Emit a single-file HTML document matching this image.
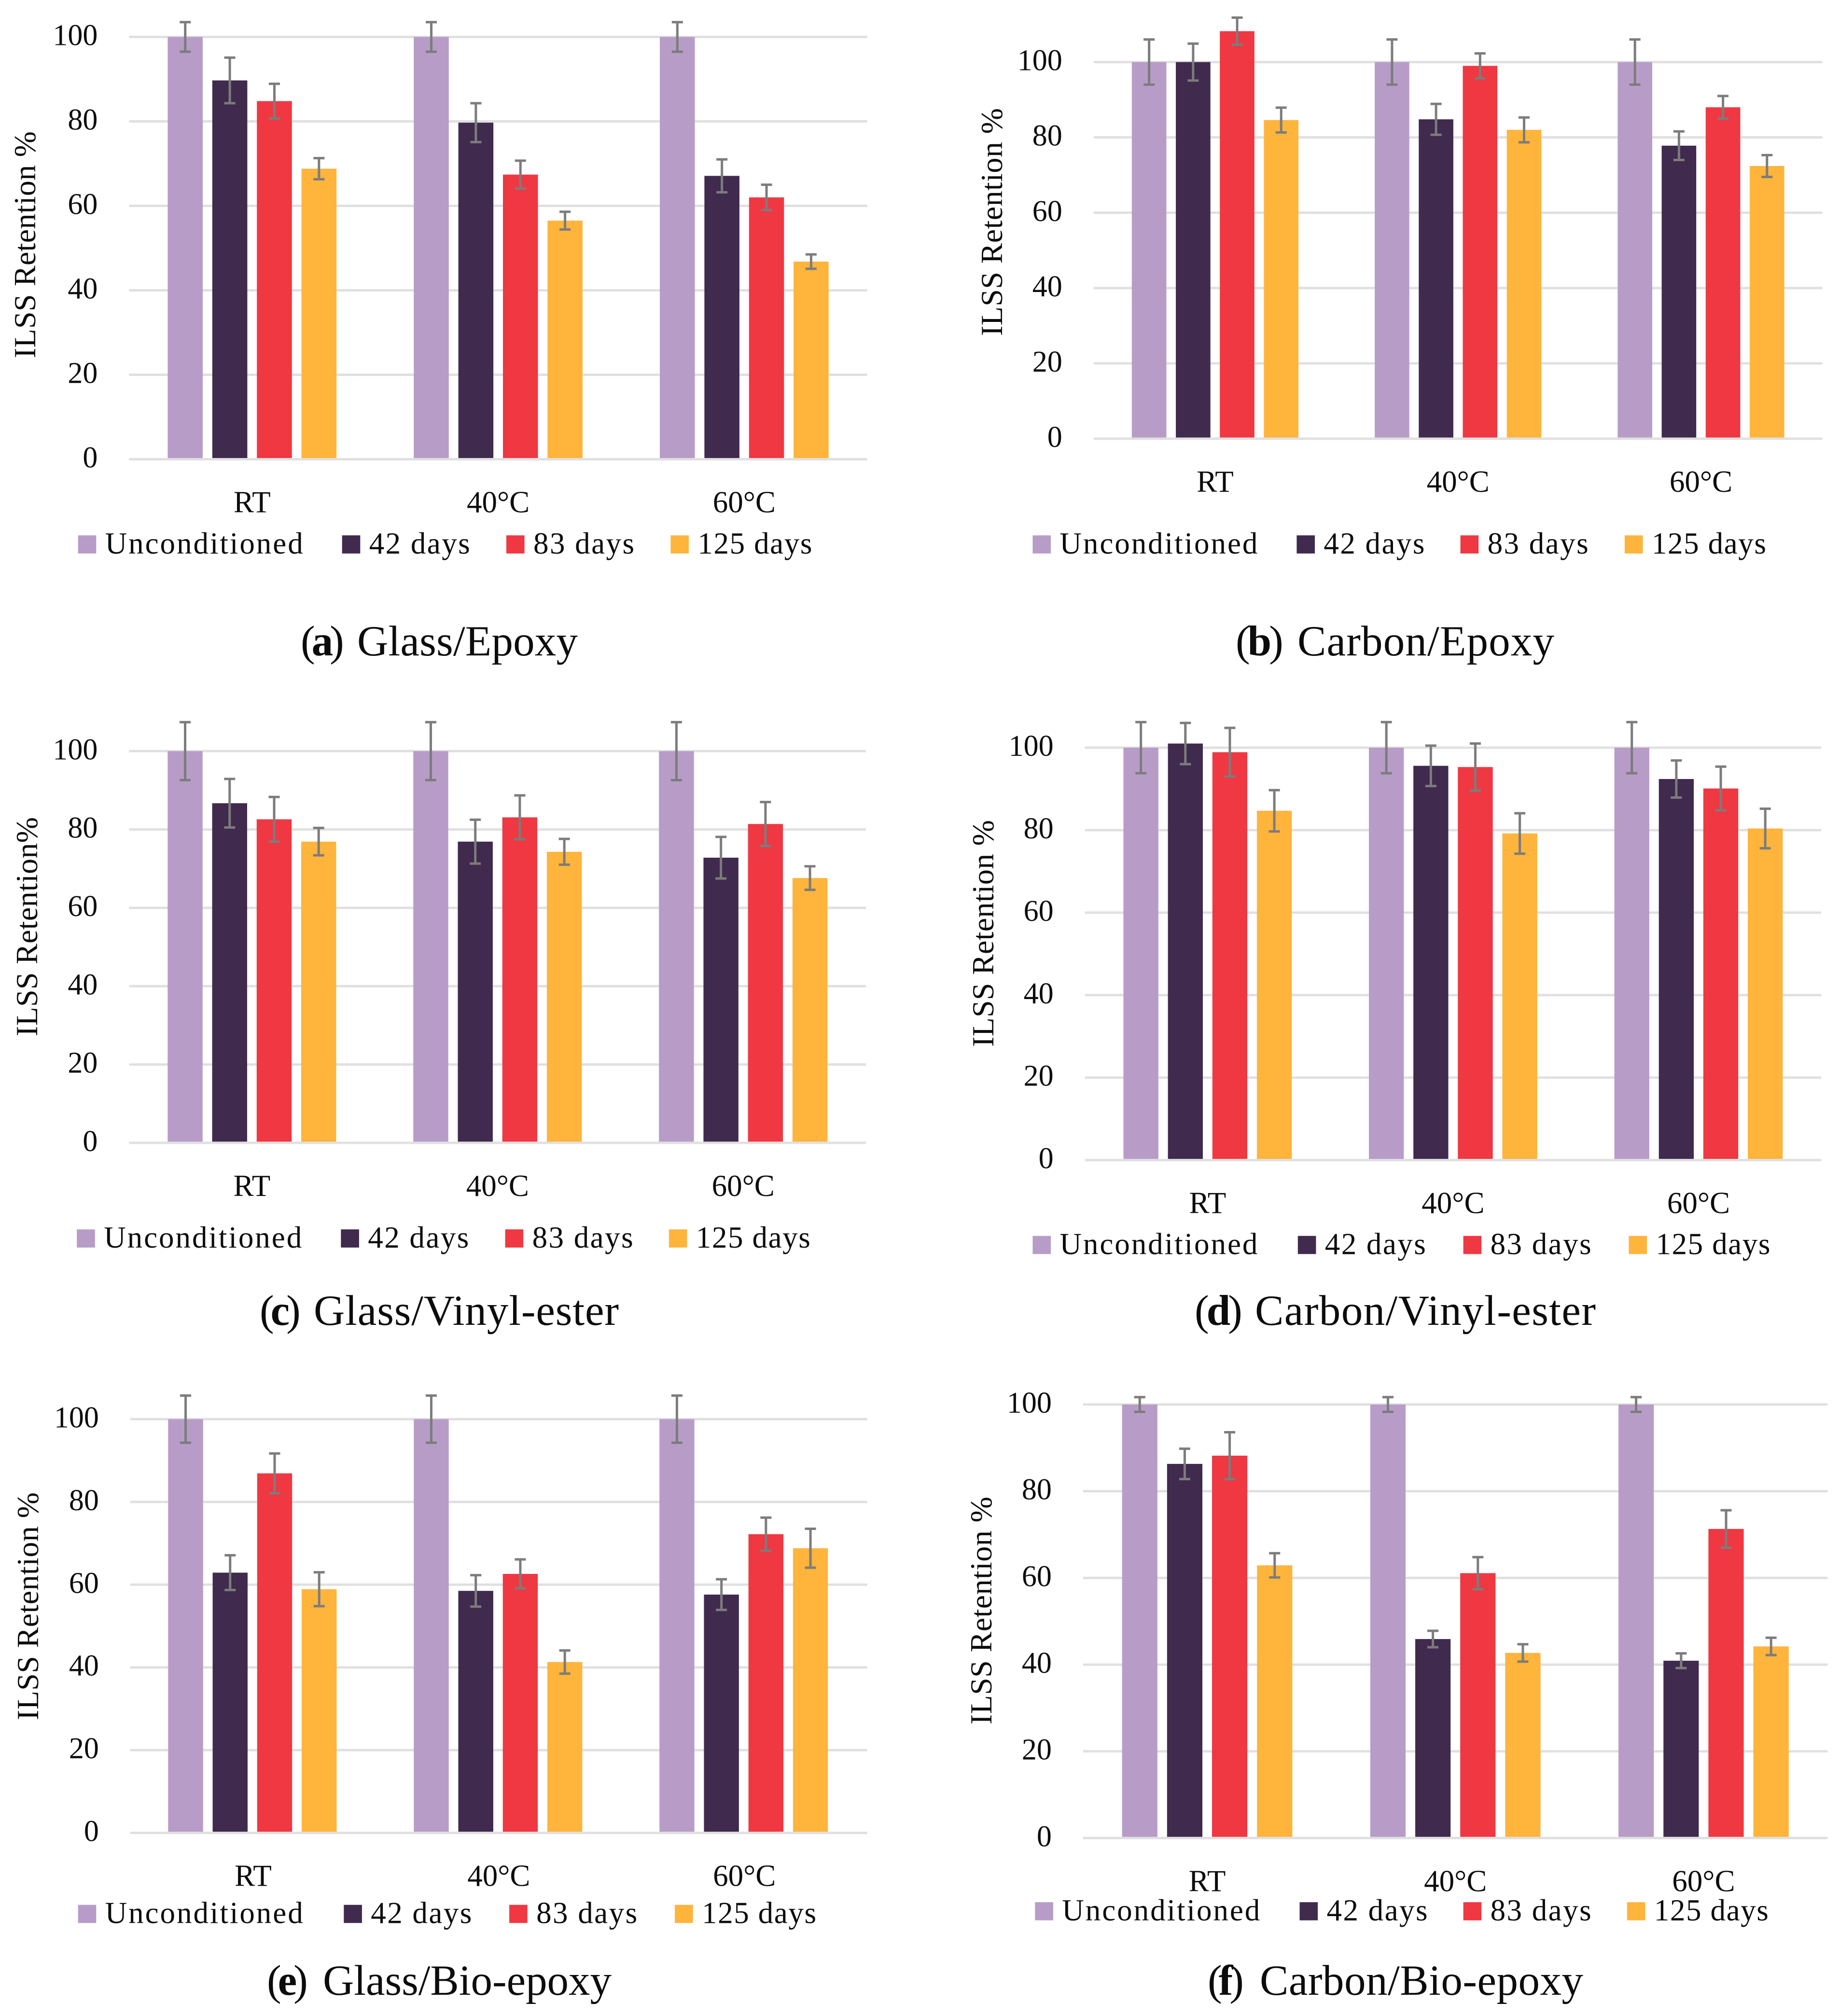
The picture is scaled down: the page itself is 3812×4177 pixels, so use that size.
<!DOCTYPE html>
<html lang="en">
<head>
<meta charset="utf-8">
<title>ILSS Retention of FRP composites</title>
<style>
html,body{margin:0;padding:0;background:#fff;}
svg{display:block;}
text{font-family:"Liberation Serif",serif;fill:#0c0c0c;}
.axis-title{font-size:64px;}
.caption{font-size:89px;}
</style>
</head>
<body>
<svg id="figure" xmlns="http://www.w3.org/2000/svg" width="3812" height="4177" viewBox="0 0 3812 4177">
<rect x="0" y="0" width="3812" height="4177" fill="#ffffff"/>
<g id="charts"></g>

<text class="axis-title" transform="translate(73 507) rotate(-90)" text-anchor="middle" textLength="470">ILSS Retention %</text>
<text class="axis-title" transform="translate(2076 460) rotate(-90)" text-anchor="middle" textLength="472">ILSS Retention %</text>
<text class="axis-title" transform="translate(77 1920) rotate(-90)" text-anchor="middle" textLength="454">ILSS Retention%</text>
<text class="axis-title" transform="translate(2058 1934) rotate(-90)" text-anchor="middle" textLength="470">ILSS Retention %</text>
<text class="axis-title" transform="translate(79 3328) rotate(-90)" text-anchor="middle" textLength="472">ILSS Retention %</text>
<text class="axis-title" transform="translate(2054 3337) rotate(-90)" text-anchor="middle" textLength="472">ILSS Retention %</text>

<text class="caption" x="623" y="1358"><tspan letter-spacing="-7">(<tspan font-weight="bold">a</tspan>)</tspan> <tspan x="740" textLength="457">Glass/Epoxy</tspan></text>
<text class="caption" x="2560" y="1358"><tspan letter-spacing="-5">(<tspan font-weight="bold">b</tspan>)</tspan> <tspan x="2688" textLength="532">Carbon/Epoxy</tspan></text>
<text class="caption" x="538" y="2745"><tspan letter-spacing="-7">(<tspan font-weight="bold">c</tspan>)</tspan> <tspan x="650" textLength="632">Glass/Vinyl-ester</tspan></text>
<text class="caption" x="2475" y="2745"><tspan letter-spacing="-5">(<tspan font-weight="bold">d</tspan>)</tspan> <tspan x="2600" textLength="706">Carbon/Vinyl-ester</tspan></text>
<text class="caption" x="553" y="4133"><tspan letter-spacing="-7">(<tspan font-weight="bold">e</tspan>)</tspan> <tspan x="669" textLength="598">Glass/Bio-epoxy</tspan></text>
<text class="caption" x="2502" y="4133"><tspan letter-spacing="-7">(<tspan font-weight="bold">f</tspan>)</tspan> <tspan x="2610" textLength="670">Carbon/Bio-epoxy</tspan></text>
</svg>

<script>
// ----- Data (rows = categories, columns = series) -----
const categories = ['RT', '40°C', '60°C'];
const seriesNames = ['Unconditioned', '42 days', '83 days', '125 days'];
const tickLabels = [0, 20, 40, 60, 80, 100];

const glassEpoxyValues = [[100, 89.7, 84.8, 68.8], [100, 79.7, 67.4, 56.5], [100, 67.1, 62.0, 46.8]];
const glassEpoxyErrors = [[3.5, 5.4, 4.1, 2.5], [3.5, 4.6, 3.3, 2.1], [3.5, 3.9, 3.0, 1.7]];

const carbonEpoxyValues = [[100, 100, 108.2, 84.6], [100, 84.8, 99.0, 82.0], [100, 77.8, 88.0, 72.4]];
const carbonEpoxyErrors = [[6.0, 4.9, 3.6, 3.3], [6.0, 4.1, 3.3, 3.3], [6.0, 3.8, 3.0, 2.9]];

const glassVinylValues = [[100, 86.7, 82.6, 76.9], [100, 76.9, 83.1, 74.3], [100, 72.8, 81.4, 67.6]];
const glassVinylErrors = [[7.4, 6.2, 5.7, 3.5], [7.4, 5.6, 5.6, 3.3], [7.4, 5.3, 5.6, 3.0]];

const carbonVinylValues = [[100, 101.0, 98.9, 84.7], [100, 95.6, 95.3, 79.2], [100, 92.4, 90.1, 80.4]];
const carbonVinylErrors = [[6.2, 5.0, 5.9, 5.0], [6.2, 4.9, 5.7, 4.9], [6.2, 4.5, 5.3, 4.8]];

const glassBioValues = [[100, 62.9, 86.9, 58.9], [100, 58.5, 62.6, 41.3], [100, 57.6, 72.2, 68.8]];
const glassBioErrors = [[5.7, 4.2, 4.8, 4.1], [5.7, 3.8, 3.5, 2.8], [5.7, 3.7, 4.0, 4.7]];

const carbonBioValues = [[100, 86.3, 88.2, 62.9], [100, 45.9, 61.1, 42.7], [100, 40.9, 71.3, 44.2]];
const carbonBioErrors = [[1.7, 3.5, 5.4, 2.8], [1.7, 1.9, 3.7, 2.0], [1.7, 1.7, 4.3, 2.0]];

// ----- Styling -----
const seriesColors = ['#B89CC8', '#402A4E', '#EF3842', '#FFB43C'];
const legendWidths = [410, 209, 209, 237];
const GRID = '#E0E0E0', ERR = '#7C7C7C';

// ----- Layout (frame of each chart on the page) -----
const panels = [
  {key: 'a', values: glassEpoxyValues,  errors: glassEpoxyErrors,  left: 267.4,  right: 1796.7, top: 76.5,   bottom: 951.5,  barShift: 0,    legendY: 1128,   legendX: [161.7, 708.7, 1049, 1389.4]},
  {key: 'b', values: carbonEpoxyValues, errors: carbonEpoxyErrors, left: 2265.8, right: 3775.6, top: 128.6,  bottom: 909,    barShift: 0,    legendY: 1128,   legendX: [2139.4, 2686.4, 3025.6, 3365.9]},
  {key: 'c', values: glassVinylValues,  errors: glassVinylErrors,  left: 267.4,  right: 1794.2, top: 1556.3, bottom: 2367.9, barShift: 0,    legendY: 2566,   legendX: [159.2, 706.3, 1046.6, 1385.8]},
  {key: 'd', values: carbonVinylValues, errors: carbonVinylErrors, left: 2247.6, right: 3773.2, top: 1549.1, bottom: 2403.6, barShift: 0,    legendY: 2579.5, legendX: [2139.4, 2688.8, 3031.6, 3374.4]},
  {key: 'e', values: glassBioValues,    errors: glassBioErrors,    left: 269.9,  right: 1796.7, top: 2940.4, bottom: 3797.6, barShift: -1.5, legendY: 3965.5, legendX: [161.7, 712.3, 1055.1, 1398]},
  {key: 'f', values: carbonBioValues,   errors: carbonBioErrors,   left: 2243.9, right: 3786.5, top: 2910,   bottom: 3808.3, barShift: 0,    legendY: 3960,   legendX: [2144.3, 2692.5, 3031.6, 3370.8]}
];

const NS = 'http://www.w3.org/2000/svg';
const root = document.getElementById('charts');

function make(parent, tag, attrs, text) {
  const el = document.createElementNS(NS, tag);
  for (const k in attrs) el.setAttribute(k, attrs[k]);
  if (text !== undefined) el.textContent = text;
  parent.appendChild(el);
  return el;
}

function drawPanel(p) {
  const g = make(root, 'g', {});
  
  

  // axis functions
  const yScale = v => p.bottom - (v / 100) * (p.bottom - p.top);
  const catWidth = (p.right - p.left) / categories.length;
  const barWidth = catWidth * 0.1423;
  const barPitch = catWidth * 0.1812;
  const barX = (c, s) => p.left + p.barShift + catWidth * (c + 0.5) + (s - seriesNames.length / 2 + 0.5) * barPitch - barWidth / 2;

  // gridlines and tick labels
  tickLabels.forEach(t => {
    if (t !== 0) {
      const line = make(g, 'line', {x1: p.left, x2: p.right, y1: yScale(t), y2: yScale(t), stroke: GRID, 'stroke-width': 5});
      
      
    }
    const label = make(g, 'text', {x: p.left - 65, y: yScale(t) + 17, 'text-anchor': 'end', 'font-size': 62}, String(t));
    
    
  });

  // bars
  categories.forEach((cat, c) => {
    seriesNames.forEach((name, s) => {
      const v = p.values[c][s];
      const bar = make(g, 'rect', {x: barX(c, s), y: yScale(v), width: barWidth, height: p.bottom - yScale(v), fill: seriesColors[s]});
      
      
    });
  });

  // baseline over the bar feet
  const base = make(g, 'line', {x1: p.left, x2: p.right, y1: yScale(0), y2: yScale(0), stroke: GRID, 'stroke-width': 5});
  
  

  // error bars
  categories.forEach((cat, c) => {
    seriesNames.forEach((name, s) => {
      const v = p.values[c][s], e = p.errors[c][s];
      const cx = barX(c, s) + barWidth / 2;
      const hi = yScale(v + e), lo = yScale(v - e);
      const d = 'M' + cx + ' ' + hi + 'V' + lo + 'M' + (cx - 11.5) + ' ' + hi + 'H' + (cx + 11.5) + 'M' + (cx - 11.5) + ' ' + lo + 'H' + (cx + 11.5);
      const err = make(g, 'path', {d: d, stroke: ERR, 'stroke-width': 5, fill: 'none'});
      
      
    });
  });

  // category labels
  categories.forEach((cat, c) => {
    const label = make(g, 'text', {x: p.left + catWidth * (c + 0.5), y: p.bottom + 110, 'text-anchor': 'middle', 'font-size': 63}, cat);
    
    
  });

  // legend
  seriesNames.forEach((name, s) => {
    const x = p.legendX[s];
    const entry = make(g, 'g', {});
    
    
    const swatch = make(entry, 'rect', {x: x, y: p.legendY - 18.8, width: 37.6, height: 37.6, fill: seriesColors[s]});
    
    
    const label = make(entry, 'text', {x: x + 56, y: p.legendY + 18.8, 'font-size': 63, textLength: legendWidths[s]}, name);
    
    
  });
}

panels.forEach(drawPanel);
</script>
</body>
</html>
